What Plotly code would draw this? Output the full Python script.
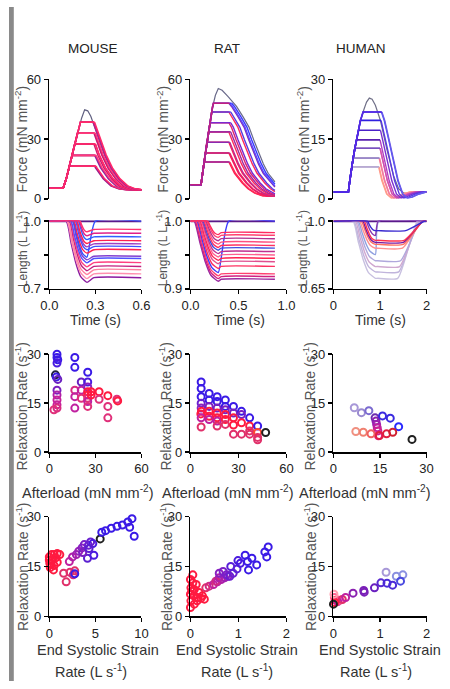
import numpy as np
import plotly.graph_objects as go

W, H = 450, 689
FONT = "Arial, Liberation Sans, sans-serif"

# ================= DATA =================
# ---------- MOUSE twitch data ----------
m_iso_t = [0, 0.09, 0.11, 0.13, 0.15, 0.17, 0.19, 0.21, 0.23, 0.25, 0.27, 0.30, 0.33, 0.36, 0.40, 0.45, 0.50, 0.55, 0.60, 0.70, 0.80]
m_iso_F = [5.3, 5.3, 10, 16, 22, 29, 35, 40.5, 44.7, 44.2, 41.5, 35, 28.5, 22, 15.5, 10, 6.5, 5, 4.5, 4.3, 4.2]
m_afterload = [16.4, 16.4, 16.4, 21.8, 21.8, 21.8, 27.5, 27.5, 27.5, 33, 33, 33, 38.5, 38.5, 38.5]
m_plateau_end = [0.30, 0.295, 0.305, 0.30, 0.295, 0.305, 0.30, 0.29, 0.30, 0.295, 0.29, 0.30, 0.29, 0.285, 0.295]
m_len_start = [0.11, 0.115, 0.12, 0.13, 0.135, 0.14, 0.15, 0.155, 0.16, 0.17, 0.175, 0.18, 0.19, 0.195, 0.2]
m_len_min = [0.728, 0.745, 0.763, 0.780, 0.797, 0.815, 0.828, 0.840, 0.858, 0.873, 0.886, 0.901, 0.918, 0.935, 0.953]
m_len_hold = [0.749, 0.766, 0.784, 0.799, 0.816, 0.834, 0.844, 0.856, 0.873, 0.887, 0.899, 0.913, 0.930, 0.946, 0.963]
m_len_return = [None, None, None, None, None, None, None, 0.30, None, None, None, None, None, None, None]
m_tmin, m_thold, m_tend = 0.245, 0.29, 0.6
m_force_col = ['#ff1a5a', '#9a2090', '#ff2a6a', '#ff1a5a', '#8a2aa0', '#ff3a7a', '#ff1a5a', '#d01a70', '#ff2a6a',
               '#ff1a5a', '#c01a78', '#ff3a7a', '#ff1a5a', '#b02090', '#ff2a6a']
m_tail_col = m_force_col
m_len_col = ['#8a1aa0', '#ff90b0', '#ff80a0', '#c02080', '#ff4080', '#5050ff', '#8040d0', '#3050ff', '#ff2050',
             '#4050ff', '#a040c0', '#ff2050', '#3060ff', '#e0208a', '#ff3070']

# ---------- RAT twitch data ----------
r_iso_t = [0, 0.11, 0.13, 0.15, 0.17, 0.19, 0.21, 0.23, 0.26, 0.29, 0.33, 0.39, 0.48, 0.55, 0.61, 0.66, 0.71, 0.76, 0.81, 0.89, 0.95, 1.02, 1.1, 1.3]
r_iso_F = [7, 7, 14, 21, 28, 34, 40, 46, 52, 55.4, 54.5, 51.5, 46.4, 41, 36, 29.5, 23, 17.5, 12.8, 7.9, 5, 2.8, 1.5, 1.0]
r_afterload = [18.5, 18.5, 23, 23, 28.4, 28.4, 33.6, 33.6, 38.2, 38.2, 43.6, 43.6, 48, 48, 48]
r_plateau_end = [0.40, 0.41, 0.40, 0.41, 0.40, 0.41, 0.40, 0.42, 0.40, 0.42, 0.40, 0.42, 0.40, 0.43, 0.41]
r_len_start = [0.04, 0.05, 0.06, 0.07, 0.08, 0.09, 0.10, 0.11, 0.12, 0.13, 0.14, 0.15, 0.16, 0.17, 0.18]
r_len_min = [0.911, 0.915, 0.919, 0.924, 0.930, 0.937, 0.942, 0.947, 0.952, 0.957, 0.961, 0.966, 0.971, 0.976, 0.980]
r_len_hold = [0.914, 0.918, 0.922, 0.927, 0.933, 0.940, 0.945, 0.950, 0.955, 0.960, 0.964, 0.969, 0.974, 0.979, 0.983]
r_len_return = [None, None, None, 0.40, None, None, None, None, None, None, None, None, None, None, None]
r_tmin, r_thold, r_tend = 0.29, 0.32, 0.88
r_force_col = ['#ff1a4a', '#9a2aa0', '#ff1a4a', '#c02080', '#ff2050', '#8a2ab0', '#ff2a5a', '#a02aa0', '#ff1a4a',
               '#7a2ad0', '#ff2a5a', '#5a3ae0', '#ff1a4a', '#3a3aff', '#c02080']
r_tail_col = ['#ff1a4a', '#ff2a5a', '#ff1a4a', '#e02070', '#ff2050', '#c02a90', '#ff2a5a', '#a02aa0', '#e02070',
              '#7a2ad0', '#ff2a5a', '#5a3ae0', '#8a2ab0', '#3a3aff', '#5a4aff']
r_len_col = ['#9a2aa0', '#d02080', '#ff4070', '#3a3aff', '#ff3060', '#e05090', '#ff2050', '#ff6090', '#c03090',
             '#4050e0', '#ff3060', '#ff5080', '#b03090', '#ff4070', '#ff2a60']

# ---------- HUMAN twitch data ----------
h_iso_t = [0, 0.32, 0.35, 0.39, 0.42, 0.46, 0.5, 0.54, 0.58, 0.65, 0.71, 0.77, 0.83, 0.9, 1.01, 1.15, 1.29, 1.40, 1.5, 1.6, 1.8, 2.0]
h_iso_F = [1.7, 1.7, 4.5, 8, 10, 12.7, 15, 17.2, 19.7, 22.3, 24.3, 25.3, 25, 23.5, 19.6, 12.3, 5.8, 2.5, 1.5, 1.3, 1.5, 1.7]
h_rel_t = [0.77, 0.9, 1.01, 1.1, 1.2, 1.3, 1.4, 1.5, 1.6, 1.75, 1.9, 2.6]
h_rel_F = [25.3, 23.5, 19.6, 15, 9.5, 4.5, 1.2, 0.2, 0.4, 1.2, 1.7, 1.7]
h_afterload = [8.0, 8.0, 10.2, 10.2, 12.7, 12.7, 14.8, 17.2, 19.7, 21.8, 21.8]
h_plateau_end = [0.97, 0.98, 0.98, 0.99, 1.0, 1.0, 1.0, 1.01, 1.02, 1.03, 1.04]
h_len_start = [0.42, 0.44, 0.47, 0.5, 0.53, 0.56, 0.6, 0.63, 0.66, 0.7, 0.73]
h_len_hold = [0.704, 0.737, 0.765, 0.795, 0.827, 0.860, 0.880, 0.890, 0.901, 0.926, 0.951]
h_len_return = [None, None, None, None, 0.97, None, None, None, None, 0.96, None]
h_ramp_start = [1.38, 1.40, 1.42, 1.44, 1.46, 1.48, 1.50, 1.50, 1.52, 1.54, 1.55]
h_ramp_end = [1.80, 1.82, 1.84, 1.86, 1.88, 1.90, 1.92, 1.92, 1.93, 1.94, 1.95]
h_tmin, h_thold, h_tend = 0.9, 0.95, 2.0
h_force_col = ['#c8c0dc', '#b8aad2', '#a898c8', '#9a88c8', '#8a70c0', '#7a50c0', '#5a20b0', '#4a20c8', '#3020e0',
               '#2a20ff', '#5a2ae0']
h_tail_col = ['#ffa090', '#ff9a8a', '#ff8a9a', '#f07aa0', '#e060a8', '#d050b0', '#b040c0', '#7a30d0', '#5a3ae0',
              '#4a4aff', '#6a5ae8']
h_len_col = ['#c8c0e0', '#c0b4dc', '#d0a8d0', '#b0a8dc', '#90a0e0', '#ff9090', '#ff7060', '#7a1aa0', '#ff3050',
             '#8a3ab0', '#3a2ad0']

# ---------- Relaxation rate vs afterload ----------
m_ra_x = [5.0, 5.0, 5.5, 5.0, 4.0, 4.5, 5.5, 5.0, 5.0, 5.0, 5.0, 5.0, 3.0,
          16.6, 16.6, 16.6, 16.6, 16.6, 20.8, 20.8, 20.8,
          25, 25, 25, 25, 25, 25, 25, 25, 27.2, 27.2, 32.4, 32.4, 38.1, 38.1, 38.1, 44, 44.5]
m_ra_y = [30.0, 29.0, 28.3, 27.3, 23.7, 23.0, 22.3, 19.0, 17.5, 16.0, 14.5, 13.5, 13.0,
          29, 26, 19, 17, 13.5, 21.5, 19, 16.5,
          24.5, 21.5, 20, 18.5, 17.5, 16.5, 15.5, 14, 18.5, 17.5, 18.5, 16.2, 17.3, 14, 10.5, 16.2, 15.7]
m_ra_c = ['#3a1ae6', '#3a1ae6', '#3a1ae6', '#4a1ae0', '#202040', '#3a1ae6', '#6a20c0', '#7a20c0', '#b020a8',
          '#c8209a', '#c8209a', '#d82a80', '#e0307a',
          '#3a1ae6', '#3a1ae6', '#d82a80', '#c020a0', '#c020a0', '#6a20c0', '#c020a0', '#e0307a',
          '#3a1ae6', '#4a1ae0', '#8a20c0', '#ff1a40', '#ff1a40', '#e0307a', '#c020a0', '#e0307a', '#ff1a40',
          '#ff1a40', '#ff1a40', '#e0307a', '#ff1a40', '#e0307a', '#e0307a', '#e0307a', '#ff1a40']

r_ra_x = [6.7, 6.7, 6.7, 6.7, 6.7, 6.9, 6.5, 6.7, 6.7,
          11.7, 11.7, 11.7, 11.7, 11.7, 11.7,
          16.7, 16.7, 16.7, 16.7, 16.7, 16.7, 16.7,
          21.8, 21.8, 21.8, 21.8, 21.8, 21.8,
          26.9, 26.9, 26.9, 26.9, 26.9,
          31.9, 31.9, 31.9, 31.9,
          37, 37, 37, 37,
          42, 42, 42, 42, 47]
r_ra_y = [21.5, 19.5, 17, 15, 13.5, 12.5, 11.7, 10.5, 7.7,
          18, 16, 14, 12.5, 11, 10,
          17, 15.5, 13.5, 12, 10.5, 9.5, 8,
          16, 14, 13, 11.5, 10, 8.5,
          14, 12, 10.5, 8.3, 5.5,
          12.5, 11.5, 9, 5.5,
          10.5, 8, 6.5, 5.5,
          8, 6, 4.5, 3.8, 6]
r_ra_c = ['#3a1ae6', '#3a1ae6', '#3a1ae6', '#6a20d0', '#8a20c0', '#ff1a40', '#ff1a40', '#c020a0', '#e0306a',
          '#3a1ae6', '#3a1ae6', '#7a20c0', '#ff1a40', '#ff1a40', '#c020a0',
          '#3a1ae6', '#3a1ae6', '#7a20c0', '#ff1a40', '#ff1a40', '#c020a0', '#e0306a',
          '#3a1ae6', '#3a1ae6', '#7a20c0', '#ff1a40', '#ff1a40', '#e0306a',
          '#3a1ae6', '#7a20c0', '#ff1a40', '#ff1a40', '#e0306a',
          '#3a1ae6', '#7a20c0', '#ff1a40', '#e0306a',
          '#3a1ae6', '#ff1a40', '#e0306a', '#e0306a',
          '#3a1ae6', '#ff4a30', '#e0306a', '#e0306a', '#202020']

h_ra_x = [6.7, 9.0, 11.4, 13.4, 13.7, 13.9, 14.1, 14.3, 14.5, 15.8, 18.3, 21.0, 25.3, 7.2, 9.6, 12.1, 14.8, 17.1, 19.1]
h_ra_y = [13.6, 12.1, 12.7, 10.5, 9.5, 8.5, 7.5, 6.5, 5.0, 11.1, 10.4, 7.8, 3.9, 6.3, 6.1, 5.6, 5.1, 5.6, 6.1]
h_ra_c = ['#a898d8', '#9a8ad0', '#7a6ad0', '#6a2ab0', '#8a20b0', '#a020b0', '#c020a0', '#d02090', '#e02080',
          '#3a2ae0', '#3a2ae0', '#2a2aff', '#202020', '#f09080', '#f08070', '#f06060', '#e02040', '#e02040', '#d02030']

# ---------- Relaxation rate vs end systolic strain rate ----------
m_sr_x = [0.0, 0.24, 0.52, 0.86, 1.14, 0.0, 0.34, 0.69, 0.05, 0.17, 0.52, 0.86, 0.1, 0.45,
          1.55, 1.83, 2.24, 2.59, 2.76,
          2.17, 2.52, 2.93, 3.2, 3.55, 3.79, 4.24, 4.48,
          2.76, 4.14, 4.83, 4.72, 3.62, 4.31,
          5.52,
          5.69, 6.1, 6.72, 7.34, 7.93, 8.52, 8.97, 8.72, 9.21]
m_sr_y = [17.9, 18.6, 18.6, 18.9, 18.6, 17.0, 17.0, 17.6, 16.0, 15.7, 15.3, 16.3, 14.7, 14.0,
          13.0, 10.4, 13.3, 12.5, 13.7,
          16.5, 17.9, 18.6, 19.6, 20.6, 21.6, 21.4, 22.4,
          12.8, 17.5, 18.4, 21.9, 19.2, 20.4,
          23.3,
          25.3, 25.8, 26.5, 27.1, 27.5, 28.4, 29.4, 26.8, 24.1]
m_sr_c = ['#ff1a40'] * 14 + ['#e0306a', '#e0306a', '#e0306a', '#d02a80', '#e0306a'] + \
         ['#c020a0', '#b020a8', '#a020b0', '#9a20b8', '#8a20c0', '#7a20c8', '#6a20d0', '#6a20d0'] + \
         ['#3a1ae6', '#5a20d0', '#4a1ae0', '#4a1ae0', '#7a20c0', '#5a20d0'] + ['#202020'] + ['#3a1ae6'] * 9

r_sr_x = [0.0, 0.05, 0.01, 0.08, 0.0, 0.07, 0.15, 0.22, 0.01, 0.08, 0.0, 0.18, 0.25, 0.29, 0.05, 0.12, 0.03, 0.14,
          0.32, 0.39, 0.48, 0.56, 0.64, 0.71, 0.78, 0.53, 0.6,
          0.6, 0.68, 0.75, 0.82, 0.89, 0.84, 0.97, 0.99, 1.04, 1.14, 1.19, 1.21, 1.28, 1.38, 1.55, 1.62, 1.59]
r_sr_y = [11.1, 10.1, 8.6, 8.1, 6.7, 6.2, 5.7, 5.5, 4.7, 3.7, 2.7, 7.2, 6.2, 5.2, 12.5, 9.6, 7.6, 4.7,
          8.6, 9.1, 9.6, 10.4, 11.1, 11.6, 12.1, 10.6, 11.6,
          13.0, 13.5, 12.5, 12.1, 13.0, 15.0, 14.3, 16.8, 16.0, 18.4, 16.5, 14.0, 17.5, 15.5, 19.4, 20.9, 17.9]
r_sr_c = ['#ff1a40'] * 18 + ['#e0306a', '#d02a80', '#c020a0', '#c020a0', '#b020a8', '#a020b0', '#9a20b8',
                             '#d02a80', '#b020a8'] + \
         ['#8a20c0', '#7a20c8', '#7a20c8', '#6a20d0', '#6a20d0', '#5a20d8', '#5a20d8', '#4a1ae0', '#4a1ae0',
          '#3a1ae6', '#3a1ae6', '#3a1ae6', '#3a1ae6', '#3a1ae6', '#3a1ae6', '#3a1ae6', '#3a1ae6']

h_sr_x = [0.02, 0.05, 0.09, 0.14, 0.19, 0.03, 0.01, 0.26, 0.42, 0.65, 0.66, 0.88, 1.02, 1.15, 1.27, 1.13, 1.35, 1.49, 1.44, 0.0]
h_sr_y = [5.7, 4.9, 4.5, 4.9, 5.1, 4.2, 6.7, 5.7, 7.0, 7.8, 7.3, 8.6, 10.1, 10.0, 9.4, 13.3, 12.1, 12.5, 10.6, 3.7]
h_sr_c = ['#ff6090', '#ff1a40', '#c020a0', '#ff6090', '#e0306a', '#ff1a40', '#ffa0b0', '#c020a0', '#8a20b0',
          '#7a20b8', '#7a20b8', '#6a20c0', '#5a2ad0', '#4a2ad8', '#4a2ad8', '#a898d8', '#8a90e0', '#8a90e0',
          '#4a4ae0', '#202020']

# ---------- axis ticks ----------
force_ticks = [[0, 30, 60], [0, 30, 60], [0, 15, 30]]
time_ticks = [[0, 0.3, 0.6], [0, 0.5, 1.0], [0, 1, 2]]
time_ticktext = [["0.0", "0.3", "0.6"], ["0.0", "0.5", "1.0"], ["0", "1", "2"]]
len_ticks = [[0.7, 0.85, 1.0], [0.9, 0.95, 1.0], [0.65, 0.825, 1.0]]
len_ticktext = [["0.7", "", "1.0"], ["0.9", "", "1.0"], ["0.65", "", "1.0"]]
rate_ticks = [0, 15, 30]
afterload_ticks = [[0, 30, 60], [0, 30, 60], [0, 15, 30]]
strain_ticks = [[0, 5, 10], [0, 1, 2], [0, 1, 2]]

# ================= HELPERS =================
SH_U = [0, 0.23, 0.46, 0.69, 1.0]      # normalised shortening template
SH_V = [0, 0.35, 0.68, 0.90, 1.0]


def force_xy(iso_t, iso_F, rel_t, rel_F, Fk, tb, t_end):
    iso_t = np.asarray(iso_t, float); iso_F = np.asarray(iso_F, float)
    ipk = int(np.argmax(iso_F))
    rt, rF = iso_t[:ipk + 1], iso_F[:ipk + 1]
    j = int(np.where(rF > rF[0])[0][0]) - 1
    ta = float(np.interp(Fk, rF[j:], rt[j:]))
    m = rt < ta
    xs = list(rt[m]) + [ta, tb]
    ys = list(rF[m]) + [Fk, Fk]
    rel_t = np.asarray(rel_t, float); rel_F = np.asarray(rel_F, float)
    imin = int(np.argmin(rel_F))
    ip = int(np.argmax(rel_F))
    dt, dF = rel_t[ip:imin + 1], rel_F[ip:imin + 1]
    t0 = float(np.interp(-Fk, -dF, dt))
    sh = rel_t - t0 + tb
    mk = (sh > tb) & (sh < t_end)
    tx = [tb] + list(sh[mk]) + [t_end]
    ty = [Fk] + list(rel_F[mk]) + [float(np.interp(t_end - tb + t0, rel_t, rel_F))]
    return xs, ys, tx, ty


def length_xy(ts, tmin, Lmin, thold, Lhold, ret_t, tr0, tr1, t_end):
    xs = [0, ts]; ys = [1.0, 1.0]
    for u, v in zip(SH_U[1:], SH_V[1:]):
        xs.append(ts + u * (tmin - ts)); ys.append(1 - (1 - Lmin) * v)
    if ret_t is not None:
        xs += [ret_t, t_end]; ys += [1.0, 1.0]
    else:
        xs.append(thold); ys.append(Lhold)
        if tr0 is not None:
            xs += [tr0, tr1, t_end]; ys += [Lhold, 1.0, 1.0]
        else:
            xs.append(t_end); ys.append(Lhold)
    return xs, ys


def clip_iso(iso_t, iso_F, t_end):
    t = np.asarray(iso_t, float); F = np.asarray(iso_F, float)
    m = t < t_end
    return list(t[m]) + [t_end], list(F[m]) + [float(np.interp(t_end, t, F))]


fig = go.Figure()

species = [
    dict(iso_t=m_iso_t, iso_F=m_iso_F, rel_t=m_iso_t, rel_F=m_iso_F, aft=m_afterload, tb=m_plateau_end,
         ls=m_len_start, lmin=m_len_min, lhold=m_len_hold, lret=m_len_return, tmin=m_tmin, thold=m_thold,
         tend=m_tend, r0=None, r1=None, fc=m_force_col, tc=m_tail_col, lc=m_len_col, iso_col='#606080'),
    dict(iso_t=r_iso_t, iso_F=r_iso_F, rel_t=r_iso_t, rel_F=r_iso_F, aft=r_afterload, tb=r_plateau_end,
         ls=r_len_start, lmin=r_len_min, lhold=r_len_hold, lret=r_len_return, tmin=r_tmin, thold=r_thold,
         tend=r_tend, r0=None, r1=None, fc=r_force_col, tc=r_tail_col, lc=r_len_col, iso_col='#6a6a8a'),
    dict(iso_t=h_iso_t, iso_F=h_iso_F, rel_t=h_rel_t, rel_F=h_rel_F, aft=h_afterload, tb=h_plateau_end,
         ls=h_len_start, lmin=h_len_hold, lhold=h_len_hold, lret=h_len_return, tmin=h_tmin, thold=h_thold,
         tend=h_tend, r0=h_ramp_start, r1=h_ramp_end, fc=h_force_col, tc=h_tail_col, lc=h_len_col,
         iso_col='#707088'),
]

for i, sp in enumerate(species):
    fx, fy = f"x{i + 1}", f"y{i + 1}"
    lx, ly = f"x{i + 4}", f"y{i + 4}"
    it, iF = clip_iso(sp['iso_t'], sp['iso_F'], sp['tend'])
    fig.add_trace(go.Scatter(x=it, y=iF, mode='lines', line=dict(color=sp['iso_col'], width=1.2),
                             xaxis=fx, yaxis=fy, showlegend=False, hoverinfo='skip'))
    n = len(sp['aft'])
    for k in range(n):
        xs, ys, tx, ty = force_xy(sp['iso_t'], sp['iso_F'], sp['rel_t'], sp['rel_F'], sp['aft'][k],
                                  sp['tb'][k], sp['tend'])
        fig.add_trace(go.Scatter(x=tx, y=ty, mode='lines', line=dict(color=sp['tc'][k], width=1.4),
                                 xaxis=fx, yaxis=fy, showlegend=False, hoverinfo='skip'))
    for k in range(n):
        xs, ys, tx, ty = force_xy(sp['iso_t'], sp['iso_F'], sp['rel_t'], sp['rel_F'], sp['aft'][k],
                                  sp['tb'][k], sp['tend'])
        fig.add_trace(go.Scatter(x=xs, y=ys, mode='lines', line=dict(color=sp['fc'][k], width=1.6),
                                 xaxis=fx, yaxis=fy, showlegend=False, hoverinfo='skip'))
    fig.add_trace(go.Scatter(x=[0, sp['tend']], y=[1.0, 1.0], mode='lines',
                             line=dict(color='#5a1a8a', width=2), xaxis=lx, yaxis=ly,
                             showlegend=False, hoverinfo='skip'))
    for k in range(n):
        r0 = sp['r0'][k] if sp['r0'] else None
        r1 = sp['r1'][k] if sp['r1'] else None
        xs, ys = length_xy(sp['ls'][k], sp['tmin'], sp['lmin'][k], sp['thold'], sp['lhold'][k],
                           sp['lret'][k], r0, r1, sp['tend'])
        fig.add_trace(go.Scatter(x=xs, y=ys, mode='lines', line=dict(color=sp['lc'][k], width=1.4,
                                                                     shape='spline', smoothing=0.5),
                                 xaxis=lx, yaxis=ly, showlegend=False, hoverinfo='skip'))

scat = [(m_ra_x, m_ra_y, m_ra_c, 7), (r_ra_x, r_ra_y, r_ra_c, 8), (h_ra_x, h_ra_y, h_ra_c, 9),
        (m_sr_x, m_sr_y, m_sr_c, 10), (r_sr_x, r_sr_y, r_sr_c, 11), (h_sr_x, h_sr_y, h_sr_c, 12)]
for x, y, c, ax in scat:
    fig.add_trace(go.Scatter(x=x, y=y, mode='markers', cliponaxis=False,
                             marker=dict(symbol='circle-open', size=7, color=c, line=dict(width=2)),
                             xaxis=f"x{ax}", yaxis=f"y{ax}", showlegend=False, hoverinfo='skip'))

# ================= LAYOUT =================
xdom_px = [(42, 138), (189, 289), (338, 435)]
ydom_px = [(74, 196), (218, 288), (355, 455), (521, 623)]


def xd(p): return [p[0] / W, p[1] / W]
def yd(p): return [1 - p[1] / H, 1 - p[0] / H]


axstyle = dict(showgrid=False, zeroline=False, showline=True, linecolor='black', linewidth=1.6,
               ticks='outside', ticklen=4, tickwidth=1.6, tickcolor='black',
               tickfont=dict(family=FONT, size=13, color='#222'), fixedrange=True)

layout = dict(width=W, height=H, margin=dict(l=0, r=0, t=0, b=0), paper_bgcolor='white',
              plot_bgcolor='white', font=dict(family=FONT, color='#222'), showlegend=False)

t_range = [[0, 0.6], [0, 1.0], [0, 2.0]]
f_range = [[0, 60], [0, 60], [0, 30]]
l_range = [[0.7, 1.004], [0.9, 1.0013], [0.65, 1.005]]
a_range = [[0, 60], [0, 60], [0, 30]]
s_range = [[0, 10], [0, 2], [0, 2]]

for i in range(3):
    layout[f"xaxis{i + 1}"] = dict(domain=xd(xdom_px[i]), range=t_range[i], anchor=f"y{i + 1}",
                                   showline=False, showticklabels=False, ticks='', showgrid=False,
                                   zeroline=False, fixedrange=True)
    layout[f"yaxis{i + 1}"] = dict(axstyle, domain=yd(ydom_px[0]), range=f_range[i], anchor=f"x{i + 1}",
                                   tickvals=force_ticks[i])
    layout[f"xaxis{i + 4}"] = dict(axstyle, domain=xd(xdom_px[i]), range=t_range[i], anchor=f"y{i + 4}",
                                   tickvals=time_ticks[i], ticktext=time_ticktext[i])
    layout[f"yaxis{i + 4}"] = dict(axstyle, domain=yd(ydom_px[1]), range=l_range[i], anchor=f"x{i + 4}",
                                   tickvals=len_ticks[i], ticktext=len_ticktext[i])
    layout[f"xaxis{i + 7}"] = dict(axstyle, domain=xd(xdom_px[i]), range=a_range[i], anchor=f"y{i + 7}",
                                   tickvals=afterload_ticks[i])
    layout[f"yaxis{i + 7}"] = dict(axstyle, domain=yd(ydom_px[2]), range=[0, 30], anchor=f"x{i + 7}",
                                   tickvals=rate_ticks)
    layout[f"xaxis{i + 10}"] = dict(axstyle, domain=xd(xdom_px[i]), range=s_range[i], anchor=f"y{i + 10}",
                                    tickvals=strain_ticks[i])
    layout[f"yaxis{i + 10}"] = dict(axstyle, domain=yd(ydom_px[3]), range=[0, 30], anchor=f"x{i + 10}",
                                    tickvals=rate_ticks)

fig.update_layout(**layout)

ann = []


def add_text(txt, px, py, size=12.5, angle=0, color='#333'):
    ann.append(dict(text=txt, x=px / W, y=1 - py / H, xref='paper', yref='paper', showarrow=False,
                    xanchor='center', yanchor='middle', textangle=angle,
                    font=dict(family=FONT, size=size, color=color)))


for name, cx in zip(["MOUSE", "RAT", "HUMAN"], [88, 227, 367]):
    add_text(name, cx, 42, size=13.5, color='#222')
for cx in [13, 160, 306]:
    add_text("Force (mN mm<sup>-2</sup>)", cx, 135, size=14, angle=-90, color='#555')
for cx in [14, 160, 306]:
    add_text("Length (L L<sub>o</sub><sup>-1</sup>)", cx, 247, size=12, angle=-90, color='#555')
for cx in [13, 163, 313]:
    add_text("Relaxation Rate (s<sup>-1</sup>)", cx, 408, size=14, angle=-90, color='#555')
    add_text("Relaxation Rate (s<sup>-1</sup>)", cx, 572, size=14, angle=-90, color='#555')
for cx in [90, 240, 387]:
    add_text("Time (s)", cx, 320, size=14)
for cx in [82, 228, 371]:
    add_text("Afterload (mN mm<sup>-2</sup>)", cx, 496, size=14.5)
for cx in [93, 238, 386]:
    add_text("End Systolic Strain", cx, 657, size=14.5)
for cx in [85, 238, 382]:
    add_text("Rate (L s<sup>-1</sup>)", cx, 679, size=14.5)

fig.update_layout(annotations=ann,
                  shapes=[dict(type='rect', xref='paper', yref='paper', x0=0, x1=5 / W, y0=0, y1=1,
                               fillcolor='#8a8a8a', line=dict(width=0), layer='above')])

fig.write_html("out.html", config={'displayModeBar': False, 'staticPlot': True},
               post_script="document.body.style.margin='0px';document.body.style.padding='0px';"
                           "document.documentElement.style.overflow='hidden';")
